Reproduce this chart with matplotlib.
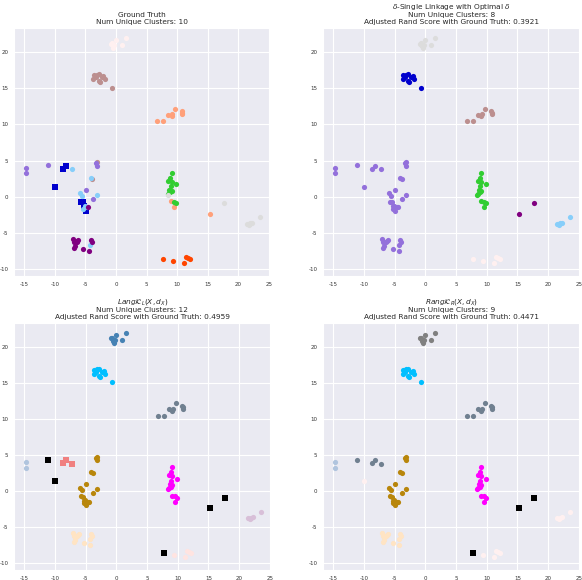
import matplotlib
matplotlib.use("Agg")
import matplotlib.pyplot as plt
import seaborn as sns
import numpy as np

# point coordinates (same embedding in all four panels)
xs = [
    # top group
    -0.87, -0.55, -0.28, 0.0, 0.93, 1.64, -0.71, -0.45,
    # group near (-3, 16.5)
    -3.72, -3.61, -3.17, -2.79, -2.79, -2.35, -2.08, -1.80, -2.62, -3.33, -0.71,
    # group near (9, 11)
    6.77, 7.75, 8.57, 9.13, 9.23, 9.67, 10.77, 10.87, 10.82,
    # far left pair
    -14.8, -14.75,
    # two stragglers
    -11.1, -10.0,
    # small left group
    -8.64, -8.2, -7.26,
    # big group near (-5, 0)
    -3.28, -3.16, -3.1, -4.15, -3.88, -4.92, -5.9, -5.62, -3.16, -3.82,
    -5.74, -5.46, -5.08, -4.54, -5.36, -4.92, -4.7, -5.25,
    # group near (9, 1)
    9.13, 8.85, 8.57, 9.13, 9.84, 8.97, 8.74, 8.57, 8.85, 9.13,
    8.99, 9.51, 9.8, 9.53, 8.45,
    # right stragglers
    15.3, 17.7,
    # group near (22, -3.7)
    21.4, 21.7, 22.0, 22.2, 23.5,
    # group near (-5.5, -6.5)
    -7.0, -6.18, -6.89, -6.44, -6.72, -6.89, -5.36, -4.38, -4.15, -3.98, -4.26, -6.34,
    # bottom straggler
    7.75,
    # bottom group
    9.4, 11.5, 12.1, 11.1, 11.85,
]
ys = [
    21.2, 20.8, 21.0, 21.7, 21.0, 21.9, 21.3, 20.6,
    16.3, 16.8, 16.9, 17.0, 16.0, 16.5, 16.7, 16.3, 15.9, 16.5, 15.1,
    10.48, 10.48, 11.35, 11.17, 11.45, 12.18, 11.86, 11.39, 11.63,
    4.04, 3.26,
    4.36, 1.38,
    3.9, 4.28, 3.8,
    4.63, 4.28, 4.75, 2.66, 2.52, 0.91, 0.46, 0.14, 0.22, -0.33,
    -0.69, -0.79, -1.24, -1.48, -1.71, -1.93, -1.48, -1.34,
    3.35, 2.66, 2.21, 2.07, 1.74, 1.42, 0.97, 0.36, 0.59, 0.83,
    -0.65, -0.69, -0.9, -1.48, 0.28,
    -2.4, -0.92,
    -3.78, -3.92, -3.68, -3.64, -2.86,
    -5.85, -5.93, -6.3, -6.3, -6.86, -7.13, -7.23, -7.45, -5.93, -6.3, -6.67, -6.07,
    -8.6,
    -8.83, -8.28, -8.6, -9.16, -8.5,
]

# cluster labels per panel (-1 = noise)
labels_truth = (
    [0] * 8 + [1] * 11 + [2] * 9 + [3, 3] + [3, 4] + [4, 4, 5]
    + [3, 3, 1, 5, 1, 3, 5, 5, 5, 3, 4, 4, 5, 8, 5, 4, 5, 4]
    + [6] * 10 + [2, 6, 6, 2, 7]
    + [2, 7] + [7] * 5
    + [8] * 10 + [5, 8]
    + [9] + [9] * 5
)
labels_delta = (
    [0] * 8 + [1] * 11 + [2] * 9 + [3, 3] + [3, 3] + [3, 3, 3]
    + [3] * 18 + [4] * 15 + [5, 5] + [6] * 5 + [3] * 12 + [7] + [7] * 5
)
labels_lang = (
    [0] * 8 + [1] * 11 + [2] * 9 + [3, 3] + [-1, -1] + [4, 4, 4]
    + [5] * 18 + [6] * 15 + [-1, -1] + [7] * 5 + [8] * 12 + [-1] + [9] * 5
)
labels_rang = (
    [0] * 8 + [1] * 11 + [2] * 9 + [3, 3] + [2, 7] + [2, 2, 2]
    + [5] * 18 + [6] * 15 + [-1, -1] + [7] * 5 + [8] * 12 + [-1] + [7] * 5
)

titles = [
    "Ground Truth\nNum Unique Clusters: 10",
    "$\\delta$-Single Linkage with Optimal $\\delta$\nNum Unique Clusters: 8\n"
    "Adjusted Rand Score with Ground Truth: 0.3921",
    "$Lang\\mathcal{K}_L(X, d_X)$\nNum Unique Clusters: 12\n"
    "Adjusted Rand Score with Ground Truth: 0.4959",
    "$Rang\\mathcal{K}_R(X, d_X)$\nNum Unique Clusters: 9\n"
    "Adjusted Rand Score with Ground Truth: 0.4471",
]

# colours per panel
pal_truth = {0: "#fff0f0", 1: "rosybrown", 2: "lightsalmon", 3: "mediumpurple",
             4: "mediumblue", 5: "lightskyblue", 6: "limegreen", 7: "gainsboro",
             8: "purple", 9: "orangered"}
pal_delta = {0: "gainsboro", 1: "mediumblue", 2: "rosybrown", 3: "mediumpurple",
             4: "limegreen", 5: "purple", 6: "lightskyblue", 7: "#fff0f0"}
pal_lang = {-1: "black", 0: "steelblue", 1: "deepskyblue", 2: "slategray",
            3: "lightsteelblue", 4: "lightcoral", 5: "darkgoldenrod", 6: "magenta",
            7: "thistle", 8: "bisque", 9: "mistyrose"}
pal_rang = {-1: "black", 0: "gray", 1: "deepskyblue", 2: "slategray",
            3: "lightsteelblue", 5: "darkgoldenrod", 6: "magenta",
            7: "#fff0f0", 8: "bisque"}

square_sets = [{4}, set(), {-1, 4}, {-1}]

sns.set_style("darkgrid")
plt.rcParams["font.family"] = ["DejaVu Sans"]
plt.rcParams["axes.unicode_minus"] = False

fig = plt.figure(figsize=(5.82, 5.80), dpi=100)
W, H = 582, 580
boxes = [(14, 28, 270, 276), (323, 28, 580, 276),
         (14, 323, 271, 570), (323, 323, 580, 570)]

x = np.array(xs)
y = np.array(ys)
all_labels = [labels_truth, labels_delta, labels_lang, labels_rang]
palettes = [pal_truth, pal_delta, pal_lang, pal_rang]

for i in range(4):
    l, t, r, b = boxes[i]
    ax = fig.add_axes([l / W, 1 - b / H, (r - l) / W, (b - t) / H])
    lab = np.array(all_labels[i])
    for c in palettes[i]:
        m = lab == c
        if not m.any():
            continue
        mk = "s" if c in square_sets[i] else "o"
        ax.scatter(x[m], y[m], c=palettes[i][c], s=14, marker=mk,
                   linewidths=0, zorder=3)
    ax.set_xlim(-16.7, 25.2)
    ax.set_ylim(-10.97, 23.35)
    ax.set_xticks([-15, -10, -5, 0, 5, 10, 15, 20, 25])
    ax.set_yticks([-10, -5, 0, 5, 10, 15, 20])
    ax.tick_params(labelsize=4, pad=0.5, colors="#333333")
    ax.grid(True, color="white", linewidth=0.8)
    ax.set_title(titles[i], fontsize=5.3, pad=3, linespacing=1.1)

plt.savefig("out.png", dpi=100)
